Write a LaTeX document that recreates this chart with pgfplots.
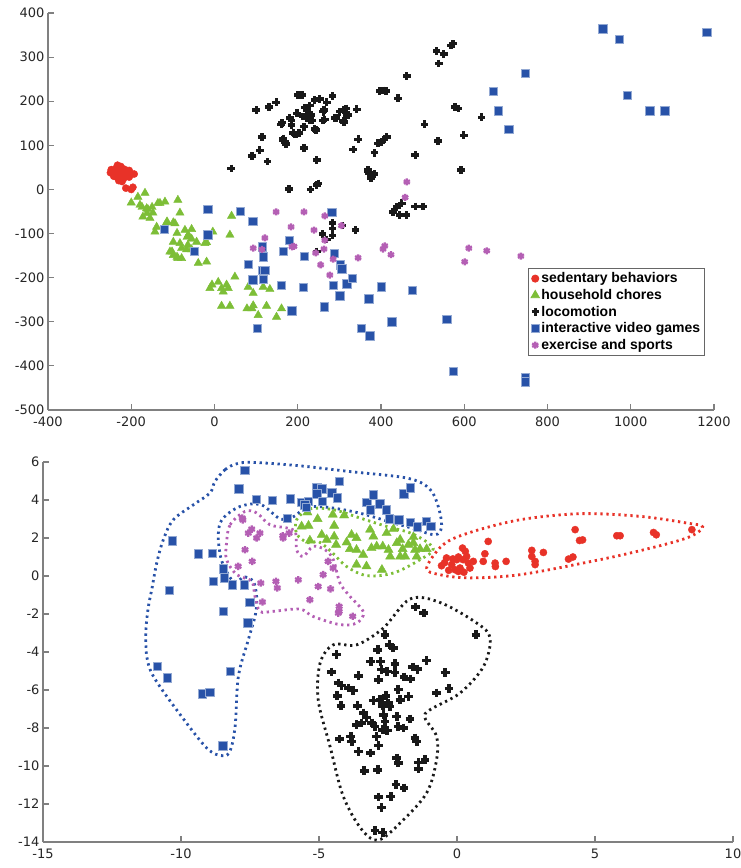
\documentclass[border=0pt]{standalone}
\usepackage{fontspec}
\setmainfont{DejaVu Sans}
\newfontfamily\legfont{Liberation Sans}
\usepackage{pgfplots}
\pgfplotsset{compat=1.18}
\definecolor{cred}{RGB}{232,50,40}
\definecolor{cgreen}{RGB}{125,190,55}
\definecolor{cblack}{RGB}{25,25,25}
\definecolor{cblue}{RGB}{40,82,168}
\definecolor{cpurple}{RGB}{180,95,180}
\definecolor{axgray}{RGB}{128,128,128}
\pgfplotsset{
  sed/.style={only marks, mark=*, mark size=3.6pt, color=cred},
  hou/.style={only marks, mark=triangle*, mark size=4.8pt, color=cgreen},
  loc/.style={only marks, mark=+, mark size=3.7pt, color=cblack, mark options={line width=3.2pt}},
  vid/.style={only marks, mark=square*, mark size=4.1pt, color=cblue, mark options={fill=cblue, draw=cblue!50!white, line width=0.7pt}},
  exs/.style={only marks, mark=asterisk, mark size=3.5pt, color=cpurple, mark options={line width=2.3pt}},
  hull/.style={smooth cycle, tension=0.55, line width=2.8pt, dash pattern=on 2.3pt off 3.7pt, no marks},
  base/.style={
    scale only axis,
    axis lines*=left,
    axis line style={axgray, line width=1.2pt, -},
    tick style={axgray, line width=1.2pt},
    tick align=inside,
    major tick length=6pt,
    tick label style={font=\fontsize{13}{14}\selectfont, text=black!85},
    xticklabel style={yshift=-3pt},
    /pgf/number format/assume math mode=true,
    /pgf/number format/1000 sep={},
    clip=false,
  },
}
\begin{document}
\begin{tikzpicture}
\path[use as bounding box] (0pt,0pt) rectangle (741pt,-868pt);
% ---------------- top axis ----------------
\begin{axis}[base,
  at={(48pt,-410pt)}, anchor=south west,
  width=666pt, height=397pt,
  xmin=-400, xmax=1200, ymin=-500, ymax=400,
  xtick={-400,-200,...,1200}, ytick={-500,-400,...,400},
  legend cell align=left,
  legend style={at={(0.721,0.358)}, anchor=north west, draw=axgray!80!black, line width=0.8pt,
    font=\legfont\bfseries\fontsize{14}{15}\selectfont, row sep=1pt, inner sep=2.5pt},
]
\addplot[sed] coordinates {
(-240,45) (-235,50) (-230,48) (-225,52) (-220,47) (-245,40) (-238,38) (-232,42) (-228,35)
(-222,38) (-215,45) (-210,40) (-205,43) (-242,30) (-235,28) (-228,25) (-220,30) (-212,32)
(-200,35) (-193,35) (-205,28) (-230,20) (-222,18) (-213,3) (-196,5) (-200,0) (-240,35)
(-218,25) (-248,45) (-250,38) (-226,42) (-233,55)
};
\addlegendentry{sedentary behaviors}
\addplot[hou] coordinates {
(-200,-30) (-179,-35) (-163,-43) (-148,-53) (-172,-62) (-155,-65) (-131,-31) (-119,-28) (-88,-24)
(-83,-53) (-139,-85) (-143,-96) (-115,-75) (-99,-75) (-90,-99) (-99,-119) (-71,-92) (-55,-90)
(-63,-103) (-55,-112) (-43,-119) (-83,-122) (-79,-133) (-67,-136) (-55,-136) (-23,-122) (-19,-120)
(-107,-141) (-99,-149) (-88,-156) (-79,-156) (-39,-167) (-19,-164) (-4,-96) (37,-103) (41,-60)
(49,-198) (-6,-216) (-11,-224) (9,-210) (17,-224) (29,-216) (21,-232) (33,-224) (81,-221)
(93,-235) (117,-221) (133,-226) (17,-264) (37,-264) (78,-270) (93,-263) (105,-285) (125,-264)
(149,-289) (161,-270) (90,-270) (-184,-17) (-167,-8) (-174,-40) (-162,-54) (-136,-31)
(-114,-73) (-95,-77) (-66,-108) (-64,-126) (-102,-141) (-90,-153) (-160,-45) (-150,-40)
};
\addlegendentry{household chores}
\addplot[loc] coordinates {
(40,48) (100,180) (131,187) (148,198) (114,119) (109,89) (90,76) (128,63) (200,214) (212,214)
(160,148) (181,162) (185,146) (189,128) (165,116) (172,103) (196,124) (203,128) (215,94) (198,173)
(212,165) (222,180) (229,191) (241,203) (253,205) (270,198) (284,212) (222,162) (229,157) (224,169)
(232,169) (215,142) (241,137) (261,176) (260,156) (265,159) (289,162) (309,180) (316,184) (321,169)
(309,155) (342,182) (333,91) (345,114) (246,67) (249,14) (246,10) (231,0) (179,1) (369,42) (371,36)
(462,257) (405,225) (397,223) (412,223) (441,207) (534,314) (551,307) (573,330) (568,326) (539,286)
(505,148) (578,187) (586,183) (642,164) (537,110) (599,123) (482,78) (592,44) (385,83) (393,105)
(400,107) (414,119) (407,113) (369,44) (378,33) (385,35) (376,26) (429,-51) (438,-40) (450,-31)
(445,-58) (461,-58) (482,-38) (501,-38) (284,-76) (284,-88) (308,-82) (339,-92) (260,-101) (270,-113)
(284,-104) (246,-140) (162,151) (164,112) (169,108) (193,124) (185,157) (217,185) (229,169) (236,157)
(263,180) (261,157) (244,135) (292,162) (301,176) (318,169) (311,153) (205,214)
};
\addlegendentry{locomotion}
\addplot[vid] coordinates {
(-16,-45) (63,-49) (92,-72) (-120,-91) (-16,-103) (-49,-141) (114,-130) (117,-153) (81,-169)
(114,-183) (121,-183) (92,-205) (117,-204) (179,-116) (166,-141) (215,-151) (160,-217) (213,-222)
(186,-275) (103,-314) (263,-266) (282,-51) (287,-145) (285,-218) (303,-171) (306,-180) (318,-214)
(301,-241) (332,-201) (352,-314) (371,-248) (373,-332) (400,-221) (475,-228) (426,-300) (558,-294)
(573,-412) (746,-427) (746,-436) (933,364) (972,341) (1183,357) (746,264) (669,223) (681,178)
(707,137) (991,214) (1046,178) (1082,178)
};
\addlegendentry{interactive video games}
\addplot[exs] coordinates {
(148,-51) (215,-51) (265,-60) (184,-85) (239,-92) (265,-115) (263,-135) (121,-110) (93,-133)
(114,-136) (186,-130) (191,-129) (243,-144) (255,-171) (277,-194) (285,-158) (305,-82) (345,-155)
(409,-128) (405,-135) (424,-148) (611,-133) (601,-164) (654,-139) (736,-151) (462,17) (458,-18)
};
\addlegendentry{exercise and sports}
\end{axis}
% ---------------- bottom axis ----------------
\begin{axis}[base,
  at={(43pt,-842pt)}, anchor=south west,
  width=690pt, height=380pt,
  xmin=-15, xmax=10, ymin=-14, ymax=6,
  xtick={-15,-10,...,10}, ytick={-14,-12,...,6},
]
% hulls
\addplot[hull, color=cblue] coordinates {
(-8.77,4.98) (-8.4,5.6) (-8.0,5.9) (-7.4,5.98) (-5.7,5.8) (-3.9,5.5) (-1.8,5.15) (-1.0,4.6)
(-0.68,3.66) (-0.56,2.6) (-0.8,2.17) (-1.58,2.5) (-2.3,2.79) (-3.5,3.3) (-4.5,3.58) (-5.2,3.66)
(-5.6,3.49) (-5.9,3.14) (-6.4,3.0) (-7.1,3.75) (-7.86,3.66) (-8.5,3.0) (-8.65,2.2) (-8.59,1.21)
(-8.47,0.6) (-8.1,-0.28) (-7.68,-0.05) (-7.38,-0.28) (-7.26,-1.07) (-7.3,-2.0) (-7.56,-3.35)
(-7.92,-5.28) (-8.04,-7.92) (-8.22,-9.2) (-8.49,-9.46) (-9.07,-9.05) (-10.16,-7.04) (-11.0,-5.28)
(-11.24,-4.23) (-11.27,-2.83) (-11.18,-1.6) (-11.06,-0.72) (-10.88,0.68) (-10.64,1.91)
(-10.28,2.96) (-9.55,3.75) (-8.95,4.37)
};
\addplot[hull, color=cpurple] coordinates {
(-8.35,1.74) (-8.22,2.7) (-7.68,3.4) (-7.26,3.32) (-6.78,2.7) (-6.17,2.53) (-5.85,2.3) (-5.81,1.38)
(-5.57,1.03) (-5.21,1.56) (-4.78,1.38) (-4.48,0.86) (-4.24,-0.37) (-3.88,-1.07) (-3.39,-1.9)
(-3.63,-2.47) (-4.24,-2.56) (-5.21,-2.13) (-5.69,-1.74) (-6.66,-1.86) (-7.14,-1.86) (-7.32,-1.07)
(-7.44,-0.28) (-7.98,0.07) (-8.35,0.86)
};
\addplot[hull, color=cgreen] coordinates {
(-5.81,2.96) (-5.33,3.53) (-4.48,3.49) (-3.51,3.05) (-2.55,2.61) (-1.58,2.2) (-0.86,1.45)
(-1.34,0.86) (-2.3,0.16) (-3.27,0.02) (-4.0,0.5) (-4.5,1.2) (-5.0,1.8) (-5.4,1.75) (-5.8,2.2)
};
\addplot[hull, color=cred] coordinates {
(-1.1,0.42) (-0.5,1.65) (0.47,2.29) (2.28,2.96) (4.46,3.28) (6.63,3.14) (8.32,2.79) (8.9,2.58)
(8.32,2.0) (6.51,1.29) (4.7,0.72) (2.28,0.07) (0.47,-0.1) (-0.62,0.07)
};
\addplot[hull, color=cblack] coordinates {
(-2.67,-2.74) (-1.7,-1.21) (-0.62,-1.39) (0.71,-2.47) (1.2,-3.26) (0.96,-4.76) (0.11,-6.16)
(-0.98,-7.04) (-1.16,-7.47) (-0.74,-8.44) (-0.74,-9.67) (-1.1,-11.42) (-2.06,-13.0) (-2.85,-13.9)
(-3.45,-13.35) (-4.12,-11.6) (-4.6,-8.97) (-5.03,-6.51) (-4.96,-4.58) (-4.48,-3.62) (-3.63,-3.62)
};
% points
\addplot[sed] coordinates {
(-0.56,0.54) (-0.38,0.95) (-0.19,0.6) (-0.01,0.86) (0.11,0.42) (0.2,1.47) (0.22,0.86) (0.41,0.68)
(0.35,1.03) (0.47,0.42) (-0.07,0.33) (0.05,0.24) (0.59,0.77) (0.95,0.77) (1.01,1.17) (1.13,1.82)
(1.38,0.68) (1.39,0.5) (1.78,0.77) (2.71,1.35) (2.71,1.03) (2.83,0.77) (2.83,0.6) (3.13,1.24)
(4.04,0.89) (4.2,1.0) (4.28,2.44) (4.44,1.87) (4.55,1.9) (5.79,2.12) (5.91,2.12) (7.12,2.29)
(7.22,2.17) (8.51,2.44) (-0.3,0.3) (0.25,0.2) (-0.45,0.7) (0.05,1.0) (0.3,1.3) (-0.15,0.9)
};
\addplot[hou, mark size=5.3pt] coordinates {
(-5.42,3.35) (-5.05,3.0) (-4.5,3.23) (-4.09,3.19) (-5.63,2.61) (-5.38,2.65) (-4.9,2.17) (-4.45,2.65)
(-4.45,2.08) (-5.33,1.87) (-4.72,1.91) (-4.38,1.65) (-4.0,1.77) (-3.82,2.17) (-3.64,2.0) (-3.88,1.42)
(-3.64,1.38) (-3.4,1.12) (-3.64,0.6) (-3.28,0.51) (-3.1,1.47) (-3.15,2.44) (-3.03,2.08) (-2.91,1.56)
(-2.69,1.56) (-2.72,0.33) (-2.48,1.38) (-2.42,1.03) (-2.3,2.47) (-2.18,1.74) (-2.06,1.91)
(-1.97,1.42) (-1.88,1.03) (-1.76,1.65) (-1.58,1.74) (-1.52,1.38) (-1.34,1.42) (-1.58,2.05)
(-1.46,1.03) (-1.1,1.42) (-2.06,1.03) (-2.55,2.26)
};
\addplot[loc, mark size=4.4pt, mark options={line width=3.6pt}] coordinates {
(-1.5,-1.63) (-1.2,-1.95) (0.69,-3.09) (-2.61,-3.09) (-2.45,-3.62) (-2.31,-3.79) (-2.87,-3.88)
(-4.36,-4.14) (-3.12,-4.49) (-2.77,-4.49) (-2.25,-4.62) (-1.1,-4.44) (-4.54,-5.05) (-3.57,-5.25)
(-2.73,-4.93) (-2.53,-5.02) (-2.25,-5.07) (-2.85,-5.46) (-1.6,-4.79) (-1.43,-4.9) (-1.92,-5.32)
(-1.68,-5.42) (-0.43,-5.07) (-4.3,-5.63) (-4.18,-5.77) (-3.93,-5.89) (-3.76,-6.02) (-4.34,-6.3)
(-2.13,-5.98) (-1.76,-6.34) (-0.74,-6.16) (-0.29,-5.93) (-4.2,-6.83) (-3.61,-6.83) (-3.03,-6.55)
(-2.79,-6.51) (-2.57,-6.3) (-2.49,-6.68) (-2.69,-6.83) (-2.43,-6.86) (-2.06,-6.51) (-3.39,-7.21)
(-3.28,-7.44) (-3.46,-7.74) (-3.64,-7.83) (-3.09,-7.74) (-2.97,-7.92) (-2.67,-7.3) (-2.61,-7.65)
(-2.69,-8.09) (-2.18,-7.39) (-2.13,-7.92) (-1.7,-7.53) (-1.94,-8.0) (-4.26,-8.58) (-3.85,-8.44)
(-3.81,-8.71) (-2.91,-8.44) (-2.85,-8.93) (-2.53,-8.14) (-1.52,-8.53) (-1.46,-8.71) (-3.57,-9.23)
(-3.13,-9.32) (-2.18,-9.58) (-2.13,-9.84) (-1.4,-9.81) (-1.16,-9.67) (-1.4,-10.16) (-3.36,-10.25)
(-2.87,-10.2) (-2.21,-10.98) (-1.92,-11.16) (-2.85,-11.63) (-2.4,-11.6) (-2.73,-12.18)
(-2.97,-13.39) (-2.69,-13.49)
};
\addplot[vid, mark size=4.2pt] coordinates {
(-7.68,5.56) (-7.9,4.58) (-7.28,4.02) (-6.7,3.98) (-6.03,4.07) (-6.15,3.05) (-10.32,1.86) (-9.37,1.17)
(-8.86,1.2) (-8.47,0.37) (-8.43,-0.1) (-8.83,-0.28) (-8.13,-0.46) (-7.71,-0.46) (-10.43,-0.76)
(-7.5,-1.39) (-8.47,-1.86) (-7.58,-2.47) (-10.86,-4.76) (-10.5,-5.35) (-9.23,-6.21) (-8.95,-6.12)
(-8.22,-5.02) (-8.49,-8.93) (-5.63,3.87) (-5.38,3.93) (-5.08,4.63) (-4.9,4.58) (-5.08,4.32)
(-4.87,3.93) (-4.54,4.37) (-4.34,4.11) (-4.26,4.98) (-5.51,3.75) (-5.45,3.6) (-3.27,3.87)
(-3.03,4.28) (-3.15,3.49) (-2.79,3.79) (-2.57,3.49) (-2.45,3.0) (-2.1,2.96) (-1.92,4.32)
(-1.68,4.63) (-1.7,2.82) (-1.43,2.58) (-1.12,2.87) (-0.95,2.61)
};
\addplot[exs, mark size=3.7pt] coordinates {
(-7.78,3.05) (-7.76,2.95) (-7.56,2.26) (-7.44,2.47) (-7.26,2.0) (-7.14,2.26) (-7.68,1.38) (-7.42,0.77)
(-7.93,0.51) (-7.11,-0.37) (-7.05,-1.37) (-6.56,-0.28) (-6.51,-0.63) (-6.31,2.12) (-6.3,2.0)
(-6.08,2.26) (-5.75,-0.2) (-5.33,-1.25) (-5.03,-0.55) (-4.85,0.07) (-4.67,0.77) (-4.49,0.42)
(-4.58,-0.68) (-4.27,-1.6) (-4.27,-1.86) (-3.78,-2.12) (-4.3,-1.95)
};
\end{axis}
\end{tikzpicture}
\end{document}
